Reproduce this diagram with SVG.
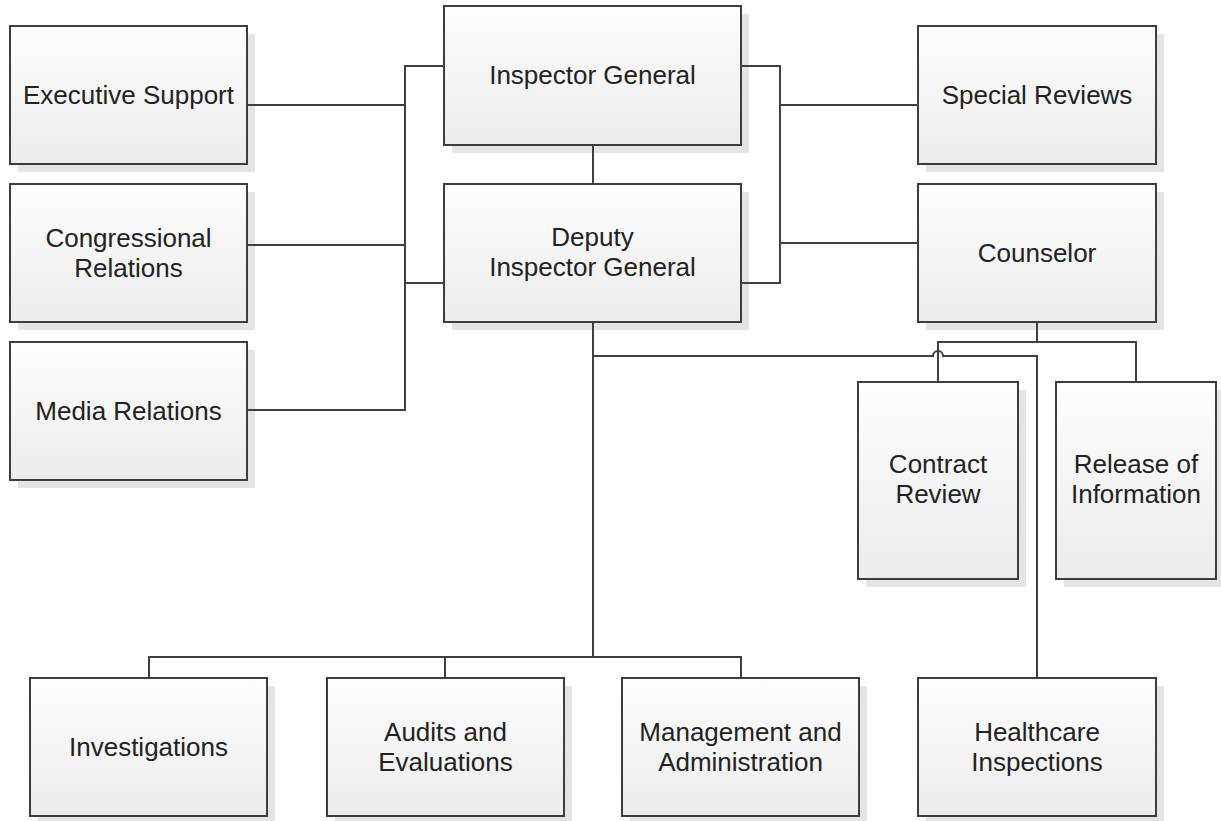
<svg xmlns="http://www.w3.org/2000/svg" width="1221" height="821" viewBox="0 0 1221 821">
  <defs>
    <linearGradient id="boxFill" x1="0" y1="0" x2="0" y2="1">
      <stop offset="0" stop-color="#fdfdfd"/>
      <stop offset="1" stop-color="#ececec"/>
    </linearGradient>
  </defs>
  <style>
    .shadow { fill: #e4e4e4; }
    .box { fill: url(#boxFill); stroke: #3d3d3d; stroke-width: 2; }
    .label { font-family: "Liberation Sans", Arial, sans-serif; font-size: 26px; fill: #222222; text-anchor: middle; }
    .conn { fill: none; stroke: #404040; stroke-width: 2; }
  </style>

  <rect width="1221" height="821" fill="#ffffff"/>

  <g id="executive-support">
    <rect class="shadow" x="18" y="34" width="237" height="138"/>
    <rect class="box" x="10" y="26" width="237" height="138"/>
    <text class="label" x="128.5" y="104">Executive Support</text>
  </g>

  <g id="congressional-relations">
    <rect class="shadow" x="18" y="192" width="237" height="138"/>
    <rect class="box" x="10" y="184" width="237" height="138"/>
    <text class="label" x="128.5" y="247">Congressional</text>
    <text class="label" x="128.5" y="277">Relations</text>
  </g>

  <g id="media-relations">
    <rect class="shadow" x="18" y="350" width="237" height="138"/>
    <rect class="box" x="10" y="342" width="237" height="138"/>
    <text class="label" x="128.5" y="420">Media Relations</text>
  </g>

  <g id="inspector-general">
    <rect class="shadow" x="452" y="14" width="297" height="139"/>
    <rect class="box" x="444" y="6" width="297" height="139"/>
    <text class="label" x="592.5" y="84">Inspector General</text>
  </g>

  <g id="deputy-inspector-general">
    <rect class="shadow" x="452" y="192" width="297" height="138"/>
    <rect class="box" x="444" y="184" width="297" height="138"/>
    <text class="label" x="592.5" y="246">Deputy</text>
    <text class="label" x="592.5" y="276">Inspector General</text>
  </g>

  <g id="special-reviews">
    <rect class="shadow" x="926" y="34" width="238" height="138"/>
    <rect class="box" x="918" y="26" width="238" height="138"/>
    <text class="label" x="1037" y="104">Special Reviews</text>
  </g>

  <g id="counselor">
    <rect class="shadow" x="926" y="192" width="238" height="138"/>
    <rect class="box" x="918" y="184" width="238" height="138"/>
    <text class="label" x="1037" y="262">Counselor</text>
  </g>

  <g id="contract-review">
    <rect class="shadow" x="866" y="390" width="160" height="197"/>
    <rect class="box" x="858" y="382" width="160" height="197"/>
    <text class="label" x="938" y="473">Contract</text>
    <text class="label" x="938" y="503">Review</text>
  </g>

  <g id="release-of-information">
    <rect class="shadow" x="1064" y="390" width="160" height="197"/>
    <rect class="box" x="1056" y="382" width="160" height="197"/>
    <text class="label" x="1136" y="473">Release of</text>
    <text class="label" x="1136" y="503">Information</text>
  </g>

  <g id="investigations">
    <rect class="shadow" x="38" y="686" width="237" height="138"/>
    <rect class="box" x="30" y="678" width="237" height="138"/>
    <text class="label" x="148.5" y="756">Investigations</text>
  </g>

  <g id="audits-and-evaluations">
    <rect class="shadow" x="335" y="686" width="237" height="138"/>
    <rect class="box" x="327" y="678" width="237" height="138"/>
    <text class="label" x="445.5" y="741">Audits and</text>
    <text class="label" x="445.5" y="771">Evaluations</text>
  </g>

  <g id="management-and-administration">
    <rect class="shadow" x="630" y="686" width="237" height="138"/>
    <rect class="box" x="622" y="678" width="237" height="138"/>
    <text class="label" x="740.5" y="741">Management and</text>
    <text class="label" x="740.5" y="771">Administration</text>
  </g>

  <g id="healthcare-inspections">
    <rect class="shadow" x="926" y="686" width="238" height="138"/>
    <rect class="box" x="918" y="678" width="238" height="138"/>
    <text class="label" x="1037" y="741">Healthcare</text>
    <text class="label" x="1037" y="771">Inspections</text>
  </g>

  <!-- connectors, drawn over the box shadows -->
  <g id="connectors" class="conn">
    <!-- left staff bus -->
    <path d="M444,66 H405 V410 H247"/>
    <path d="M247,105 H405"/>
    <path d="M247,245 H405"/>
    <path d="M444,283 H405"/>
    <!-- right staff bus -->
    <path d="M741,66 H780 V283 H741"/>
    <path d="M780,105 H918"/>
    <path d="M780,243 H918"/>
    <!-- inspector general to deputy -->
    <path d="M593,145 V184"/>
    <!-- deputy to divisions -->
    <path d="M593,322 V657"/>
    <path d="M149,678 V657 H741 V678"/>
    <path d="M445,657 V678"/>
    <!-- deputy to healthcare, hopping over counselor branch -->
    <path d="M593,356 H933 A5,5 0 0 1 943,356 H1037 V678"/>
    <!-- counselor branch -->
    <path d="M1037,322 V342"/>
    <path d="M938,382 V342 H1136 V382"/>
  </g>
</svg>
